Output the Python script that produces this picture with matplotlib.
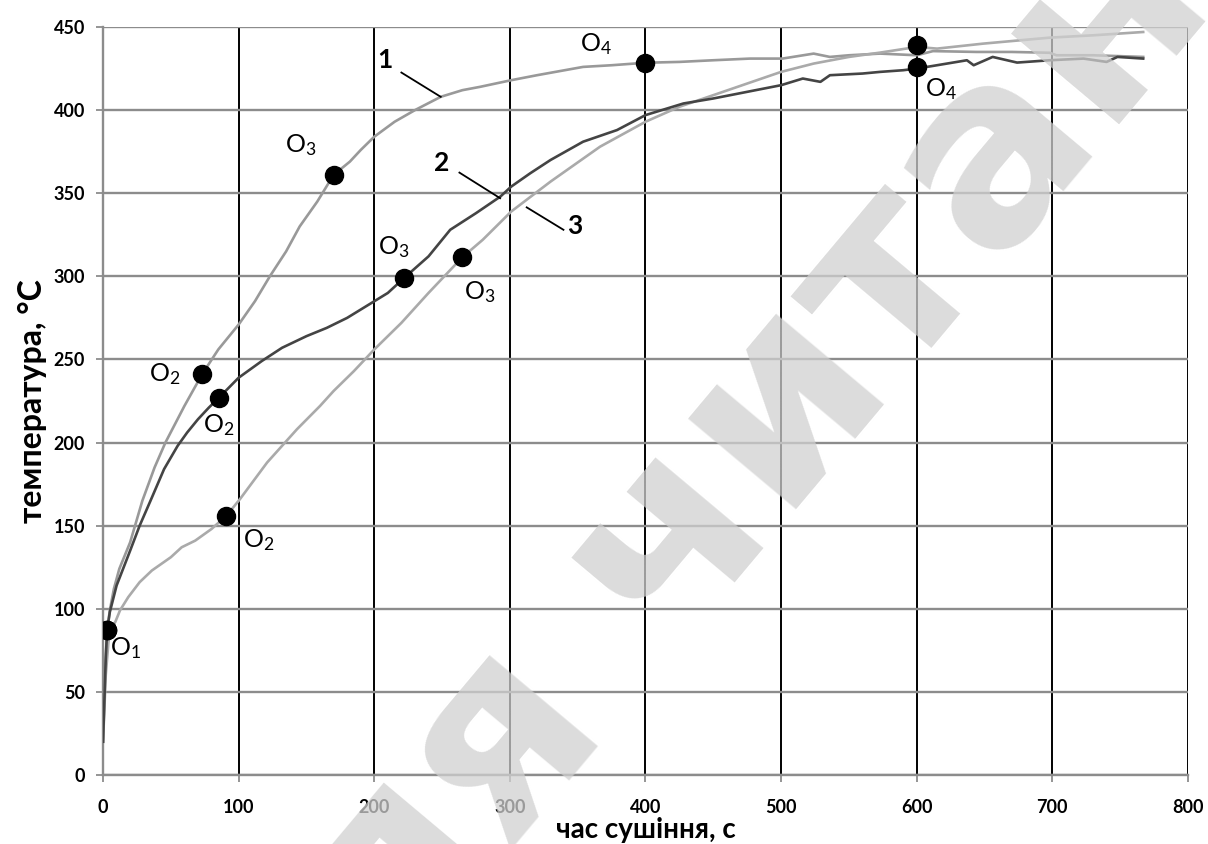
import numpy as np
import matplotlib
matplotlib.use('Agg')
import matplotlib.pyplot as plt

plt.rcParams['font.family'] = ['Lato', 'Open Sans', 'DejaVu Sans']
plt.rcParams['mathtext.fontset'] = 'custom'
plt.rcParams['mathtext.rm'] = 'Lato'
plt.rcParams['mathtext.default'] = 'regular'

# температура по кривих 1, 2, 3 (час, с / температура, °C)
t1 = [0, 1, 2, 3, 5, 8, 12, 20, 29, 38, 46, 60, 73, 85, 100, 112, 123, 135, 145, 158,
      170, 182, 190, 200, 215, 230, 249, 265, 278, 301, 320, 354, 375, 400, 425, 450,
      477, 501, 524, 536, 550, 573, 600, 612, 644, 670, 698, 703, 730, 767]
T1 = [20, 50, 72, 87, 99, 112, 124, 140, 165, 185, 200, 222, 241, 256, 271, 285, 300, 315, 330, 345,
      361, 369, 376, 384, 393, 400, 408, 412, 414, 418, 421, 426, 427, 428.5, 429, 430,
      431, 431, 434, 432, 433, 434, 433, 435.5, 435, 435, 434.5, 433, 433, 432]

t2 = [0, 1, 2, 3, 5, 10, 20, 27, 35, 45, 55, 62, 70, 78, 85.5, 100, 117, 132, 150, 165, 180,
      200, 210, 222, 240, 256, 275, 293, 301, 315, 330, 354, 379, 400, 428, 450, 475,
      500, 516, 529, 536, 560, 573, 590, 600, 612, 637, 642, 656, 674, 698, 723, 740, 748, 767]
T2 = [20, 45, 70, 87, 98, 114, 135, 150, 165, 184, 198, 206, 214, 221, 227, 239, 249, 257, 264, 269, 275,
      285, 290, 299, 312, 328, 338, 348, 354, 362, 370, 381, 388, 397, 404, 407, 411,
      415, 419, 417, 421, 422, 423, 424, 425, 426.6, 430, 427, 432, 428.6, 430, 431, 429, 432, 431]

t3 = [0, 2, 4, 6, 9, 12.5, 18.6, 27, 36, 50, 58, 68, 80, 91, 101, 121, 143, 160, 170, 185,
      200, 220, 240, 265, 280, 301, 330, 366.5, 400, 425, 450, 475, 500, 524, 550, 573,
      600, 615, 649, 698, 730, 767]
T3 = [20, 60, 80, 88, 92, 99, 107, 116, 123, 131, 137, 141, 148, 156, 166, 188, 208, 222, 231, 243,
      256, 272, 290, 311.5, 322, 339, 357, 378, 393, 402, 409, 416, 423, 428, 432, 434.6,
      438, 437, 440, 443.6, 445, 447]

# характерні точки O1..O4
o1_t = [3, 73, 170, 400]
o1_T = [87, 241, 361, 428.5]
o2_t = [3, 85.5, 222, 600]
o2_T = [87, 227, 299, 426]
o3_t = [3, 91, 265, 600]
o3_T = [87, 156, 311.5, 439]

o_names = [r'O$_1$', r'O$_2$', r'O$_3$', r'O$_4$']
# зсув підписів точок, пікселі
off1 = [None, (-37, 0), (-33, 30), (-50, 19)]
off2 = [(18, -18), (0, -27), (-10, 31), None]
off3 = [None, (32, -24), (17, -35), (24, -44)]

fig = plt.figure(figsize=(12.08, 8.44), dpi=100)
ax = fig.add_axes([0.0853, 0.0818, 0.8981, 0.8862])

ax.plot(t1, T1, color='#999999', lw=1.9, zorder=3)
ax.plot(t3, T3, color='#aaaaaa', lw=1.9, zorder=3)
ax.plot(t2, T2, color='#444444', lw=1.9, zorder=3)

for ts, Ts, offs in [(o1_t, o1_T, off1), (o2_t, o2_T, off2), (o3_t, o3_T, off3)]:
    ax.plot(ts, Ts, 'o', color='black', ms=13, zorder=4)
    for x, y, name, off in zip(ts, Ts, o_names, offs):
        if off is None:
            continue
        ax.annotate(name, (x, y), xytext=(off[0] * 0.72, off[1] * 0.72),
                    textcoords='offset points', ha='center', va='center',
                    fontsize=18, color='black', zorder=5)

# номери кривих з виносками
for num, txt_xy, line_x, line_y in [('1', (208, 430), (220, 249), (422.6, 408)),
                                    ('2', (249.7, 368), (262.8, 292.8), (362.4, 347)),
                                    ('3', (348, 330), (312.4, 339.5), (341.5, 328))]:
    ax.plot(line_x, line_y, color='black', lw=1.3, zorder=5)
    ax.text(txt_xy[0], txt_xy[1], num, ha='center', va='center',
            fontsize=19, fontweight='bold', zorder=5)

ax.set_xlim(0, 800)
ax.set_ylim(0, 450)
ax.set_xticks(np.arange(0, 801, 100))
ax.set_yticks(np.arange(0, 451, 50))
ax.grid(axis='x', color='black', lw=1.4, zorder=1)
ax.grid(axis='y', color='#8c8c8c', lw=1.7, zorder=1)
ax.set_axisbelow(True)
for s in ['top', 'right']:
    ax.spines[s].set_visible(False)
for s in ['left', 'bottom']:
    ax.spines[s].set_color('#8c8c8c')
    ax.spines[s].set_linewidth(1.7)
ax.tick_params(colors='#8c8c8c', width=1.3, length=5, labelcolor='black',
               labelsize=13, pad=8)
ax.tick_params(axis='x', pad=12)
for lab in ax.get_xticklabels() + ax.get_yticklabels():
    lab.set_fontweight('bold')

ax.set_xlabel('час сушіння, с', fontsize=20, fontweight='bold', labelpad=1)
ax.set_ylabel('температура, °C', fontsize=23, fontweight='bold', labelpad=5)

# водяний знак
fig.text(0.655, 0.52, 'для читання', rotation=50, ha='center', va='center',
         fontsize=185, fontweight='bold', color='#d0d0d0', alpha=0.75,
         family='DejaVu Sans', zorder=10)

fig.savefig('out.png', dpi=100)
